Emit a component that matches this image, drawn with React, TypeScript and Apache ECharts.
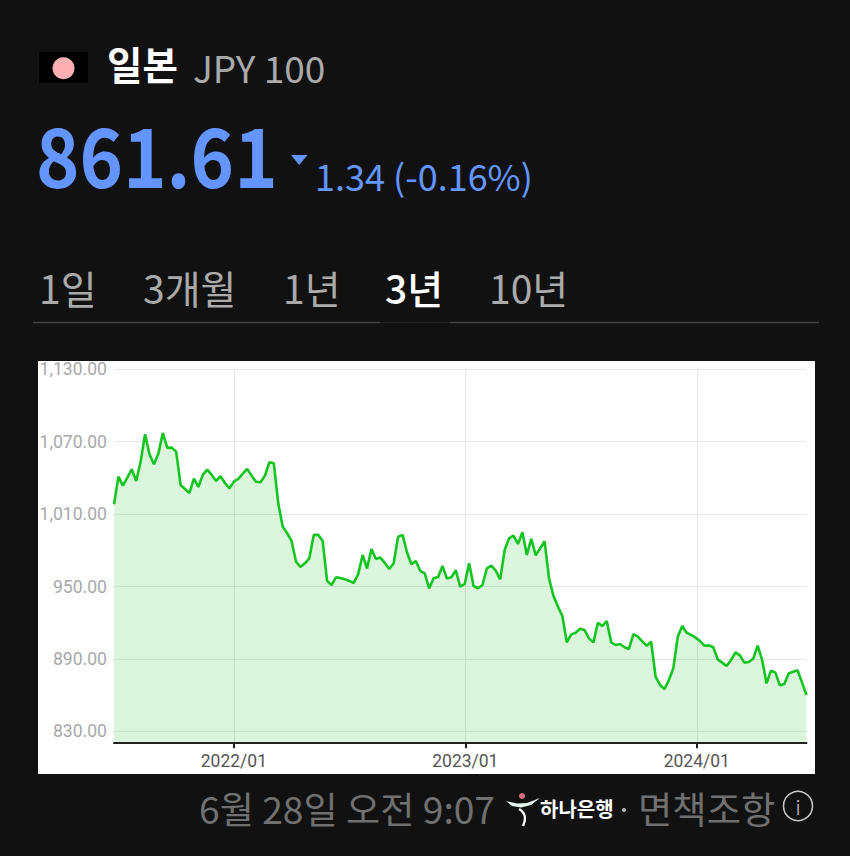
import React, { useEffect, useRef } from "react";
import * as echarts from "echarts";

const jpyValues = [
  1018.2, 1041.1, 1033.6, 1040.3, 1047.2, 1037.5, 1053.5, 1076.2, 1059.6, 1051.3,
  1060.2, 1077.3, 1064.9, 1065.1, 1061.8, 1034.2, 1030.9, 1027.6, 1039.4, 1032.5,
  1042.5, 1046.9, 1042.5, 1037.5, 1041.4, 1035.8, 1031.4, 1036.9, 1039.2, 1043.6,
  1047.5, 1041.9, 1036.9, 1036.4, 1041.9, 1053.0, 1052.2, 1019.0, 999.7, 994.2,
  987.8, 970.7, 966.2, 969.3, 973.4, 992.8, 993.0, 987.8, 954.7, 951.3,
  957.7, 957.1, 956.0, 954.7, 953.0, 960.2, 976.2, 965.1, 981.2, 972.9,
  974.0, 969.6, 964.6, 969.3, 991.4, 992.8, 978.4, 968.5, 971.2, 962.9,
  961.0, 948.6, 956.9, 958.0, 967.1, 956.6, 957.7, 963.5, 950.0, 952.2,
  969.3, 950.5, 948.6, 951.3, 965.1, 967.3, 963.2, 956.0, 980.3, 990.0,
  992.2, 985.3, 995.0, 976.2, 989.5, 975.9, 981.7, 987.5, 956.9, 942.2,
  933.4, 925.6, 903.8, 910.4, 911.8, 915.1, 914.0, 907.1, 903.8, 920.1,
  917.3, 921.5, 903.8, 901.6, 902.4, 899.7, 898.3, 910.7, 908.5, 904.6,
  901.0, 904.4, 875.4, 868.5, 865.1, 872.6, 882.3, 908.5, 917.3, 911.8,
  909.9, 907.7, 904.9, 901.0, 901.3, 899.7, 889.7, 887.0, 884.2, 889.2,
  895.5, 893.0, 887.0, 887.5, 890.3, 901.0, 889.2, 869.9, 880.4, 878.7,
  868.2, 869.3, 878.1, 879.5, 880.6, 870.4, 860.2,
];
const firstWeek = "2021-06-26";
const yTicks = [830, 890, 950, 1010, 1070, 1130];
const xTicks = ["2022-01-01", "2023-01-01", "2024-01-01"];
const xTickLabels = ["2022/01", "2023/01", "2024/01"];
const tabs = ["1일", "3개월", "1년", "3년", "10년"];

const KR = '"Noto Sans CJK KR", "Noto Sans", sans-serif';
const WEEK = 7 * 24 * 3600 * 1000;
const t0 = new Date(firstWeek + "T00:00:00Z").getTime();
const seriesData = jpyValues.map((v, i) => [t0 + i * WEEK, v]);
const xTickTimes = xTicks.map((d) => new Date(d + "T00:00:00Z").getTime());

function txt(text: string, x: number, y: number, fontSize: number, fill: string, fontWeight: any = 400, extra: any = {}) {
  return {
    type: "text",
    z: 10,
    style: { text, x, y, fill, fontSize, fontWeight, fontFamily: KR, textVerticalAlign: "middle", textAlign: "left", ...extra },
  };
}

export default function App() {
  const ref = useRef<HTMLDivElement>(null);
  useEffect(() => {
    document.body.style.margin = "0";
    document.body.style.background = "#111111";
    const chart = echarts.init(ref.current!, null, { renderer: "svg" });
    const tabX = [39, 143, 283, 385, 489];
    chart.setOption({
      animation: false,
      backgroundColor: "#111111",
      grid: { left: 114, right: 43.5, top: 369.3, bottom: 113.7 },
      xAxis: {
        type: "value",
        min: t0,
        max: t0 + (jpyValues.length - 1) * WEEK,
        axisLine: { show: true, onZero: false, lineStyle: { color: "#222222", width: 2 } },
        axisTick: { show: true, length: 6, customValues: xTickTimes, lineStyle: { color: "#222222", width: 2 } },
        axisLabel: {
          customValues: xTickTimes,
          formatter: (val: number) => xTickLabels[xTickTimes.indexOf(val)] ?? "",
          color: "#555555",
          fontFamily: "Roboto",
          fontSize: 17.5,
          margin: 10,
          showMinLabel: true,
          showMaxLabel: true,
        },
        splitLine: { show: true, customValues: xTickTimes, lineStyle: { color: "#e4e6e8", width: 1 } },
      },
      yAxis: {
        type: "value",
        min: 821,
        max: 1130,
        axisLine: { show: false },
        axisTick: { show: false, customValues: yTicks },
        axisLabel: {
          customValues: yTicks,
          formatter: (v: number) => v.toLocaleString("en-US", { minimumFractionDigits: 2, maximumFractionDigits: 2 }),
          color: "#a8a8aa",
          fontFamily: "Roboto",
          fontSize: 17.6,
          margin: 7,
          showMinLabel: true,
          showMaxLabel: true,
        },
        splitLine: { show: true, customValues: yTicks, lineStyle: { color: "#e4e6e8", width: 1 } },
      },
      series: [
        {
          type: "line",
          data: seriesData,
          showSymbol: false,
          symbol: "none",
          smooth: false,
          lineStyle: { color: "#14c420", width: 2.6 },
          areaStyle: { color: "rgba(25,195,40,0.22)" },
          z: 3,
        },
      ],
      graphic: [
        { type: "rect", z: -10, shape: { x: 38, y: 361, width: 777, height: 413 }, style: { fill: "#ffffff" } },
        { type: "rect", z: 10, shape: { x: 39, y: 52, width: 49, height: 31 }, style: { fill: "#000000" } },
        { type: "circle", z: 11, shape: { cx: 63.5, cy: 68.3, r: 11 }, style: { fill: "#ffb0b5" } },
        txt("일본", 107, 63, 38.5, "#ffffff", 700),
        txt("JPY 100", 193, 67, 37, "#aaaaaa", 400),
        { ...txt("861.61", 0, 0, 82, "#6495ff", 700), x: 36, y: 152, scaleX: 0.9 },
        { type: "polygon", z: 10, shape: { points: [[291, 155], [307.5, 155], [299.2, 165]] }, style: { fill: "#6495ff" } },
        txt("1.34 (-0.16%)", 315, 175, 36, "#6495ff", 400),
        ...tabs.map((t, i) => txt(t, tabX[i], 287, 39, i === 3 ? "#ffffff" : "#aaaaaa", i === 3 ? 500 : 400)),
        { type: "line", z: 10, shape: { x1: 33, y1: 322.5, x2: 380, y2: 322.5 }, style: { stroke: "#444444", lineWidth: 1.5 } },
        { type: "line", z: 10, shape: { x1: 380, y1: 322.5, x2: 450, y2: 322.5 }, style: { stroke: "#222222", lineWidth: 1.5 } },
        { type: "line", z: 10, shape: { x1: 450, y1: 322.5, x2: 819, y2: 322.5 }, style: { stroke: "#444444", lineWidth: 1.5 } },
        txt("6월 28일 오전 9:07", 199, 808, 37.2, "#707070", 400),
        { type: "circle", z: 11, shape: { cx: 522, cy: 796, r: 3 }, style: { fill: "#d8707f" } },
        { type: "polygon", z: 11, shape: { points: [[506, 801], [517, 803.5], [527, 803], [540, 798], [531, 805], [521, 807.5], [512, 806]] }, style: { fill: "#e6f5ec" } },
        { type: "bezierCurve", z: 11, shape: { x1: 519, y1: 809, cpx1: 526, cpy1: 813, cpx2: 526, cpy2: 820, x2: 523, y2: 826 }, style: { stroke: "#ffffff", lineWidth: 2.5, fill: "none" } },
        txt("하나은행", 540, 808, 20, "#ffffff", 700),
        { type: "circle", z: 11, shape: { cx: 624, cy: 810, r: 2 }, style: { fill: "#bbbbbb" } },
        txt("면책조항", 638, 808, 37.3, "#707070", 400),
        { type: "circle", z: 11, shape: { cx: 798, cy: 806, r: 14.5 }, style: { fill: "none", stroke: "#cccccc", lineWidth: 1.5 } },
        txt("i", 795.5, 806, 20, "#cccccc", 300),
      ],
    });
    return () => chart.dispose();
  }, []);
  return <div ref={ref} style={{ width: 850, height: 856 }} />;
}
